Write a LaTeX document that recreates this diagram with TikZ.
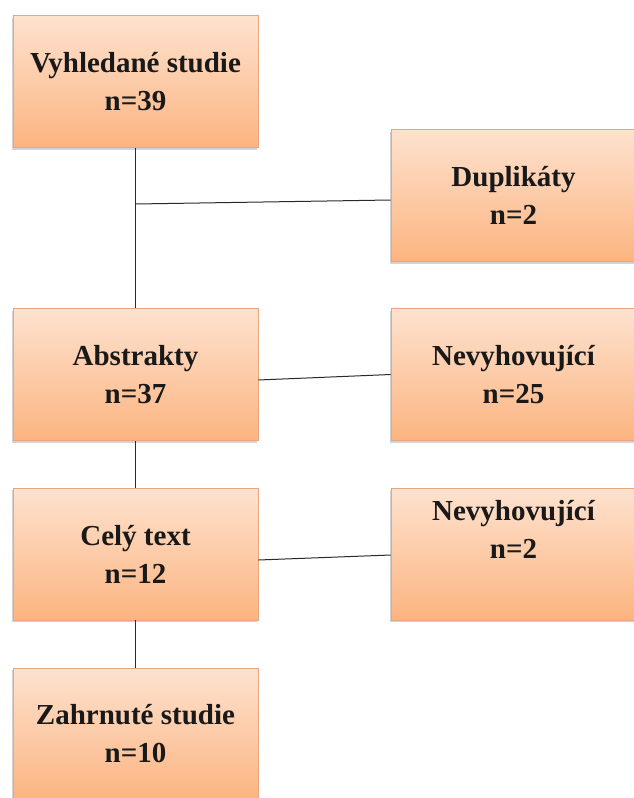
\documentclass[tikz,border=0pt]{standalone}
\usepackage{fontspec}
\setmainfont{Liberation Serif}
\usepackage{tikz}
\usetikzlibrary{positioning, shadows}
\definecolor{peachtop}{HTML}{FDE2CF}
\definecolor{peachbot}{HTML}{FCB480}
\definecolor{peachedge}{HTML}{E8A67C}
\definecolor{lineblack}{HTML}{2A2A2A}

\begin{document}
\begin{tikzpicture}[x=1pt, y=-1pt,
    studybox/.style={rectangle, draw=peachedge, line width=0.6pt,
      top color=peachtop, bottom color=peachbot,
      minimum width=245pt, minimum height=132pt, align=center,
      font=\fontsize{29}{38}\selectfont\bfseries, text=black!90,
      drop shadow={shadow xshift=-1.5pt, shadow yshift=-2pt, opacity=0.35}},
    link/.style={draw=lineblack, line width=1pt}]
  \useasboundingbox (0,0) rectangle (633,798);
  % left column
  \node[studybox] (found) at (135.5,81.5) {Vyhledané studie\\n=39};
  \node[studybox] (abstr) at (135.5,374.5) {Abstrakty\\n=37};
  \node[studybox] (full)  at (135.5,554) {Celý text\\n=12};
  \node[studybox] (incl)  at (135.5,734) {Zahrnuté studie\\n=10};
  % right column
  \node[studybox] (dupl) at (513.5,195.5) {Duplikáty\\n=2};
  \node[studybox] (excl1) at (513.5,374.5) {Nevyhovující\\n=25};
  \node[studybox] (excl2) at (513.5,554) {Nevyhovující\\n=2\\\strut};
  % connectors
  \coordinate (split) at (135.5,204);
  \draw[link] (found.south) -- (abstr.north);
  \draw[link] (split) -- ([yshift=-4.5pt]dupl.west);
  \draw[link] ([yshift=-5.5pt]abstr.east) -- (excl1.west);
  \draw[link] ([yshift=-6pt]full.east) -- ([yshift=-1pt]excl2.west);
  \draw[link] (abstr.south) -- (full.north);
  \draw[link] (full.south) -- (incl.north);
\end{tikzpicture}
\end{document}
